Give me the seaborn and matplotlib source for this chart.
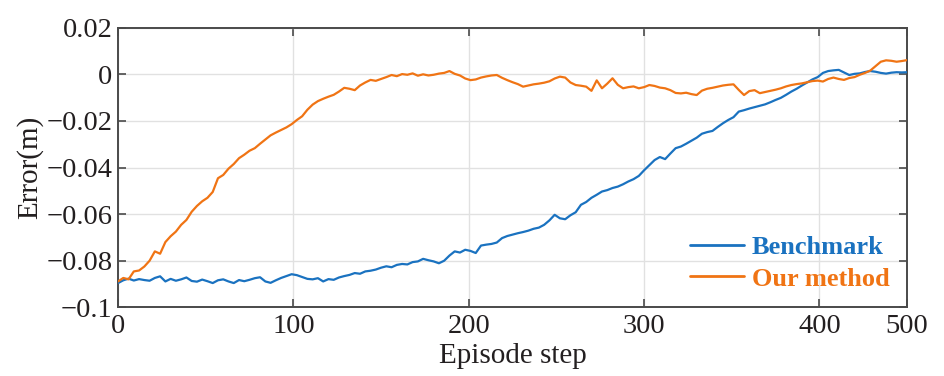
import numpy as np
import pandas as pd
import matplotlib
matplotlib.use("Agg")
import matplotlib.pyplot as plt
import seaborn as sns

# ---------------- data ----------------
steps = list(range(0, 451, 3))

benchmark = [
    -0.0896, -0.0884, -0.0877, -0.0885, -0.0879, -0.0883, -0.0886, -0.0874, -0.0867, -0.0889,
    -0.0878, -0.0886, -0.0880, -0.0872, -0.0887, -0.0890, -0.0881, -0.0888, -0.0896, -0.0884,
    -0.0880, -0.0889, -0.0896, -0.0883, -0.0888, -0.0882, -0.0875, -0.0871, -0.0889, -0.0895,
    -0.0884, -0.0874, -0.0866, -0.0858, -0.0862, -0.0870, -0.0878, -0.0880, -0.0875, -0.0889,
    -0.0879, -0.0882, -0.0872, -0.0866, -0.0861, -0.0853, -0.0856, -0.0846, -0.0843, -0.0838,
    -0.0830, -0.0824, -0.0828, -0.0818, -0.0814, -0.0816, -0.0806, -0.0803, -0.0792, -0.0798,
    -0.0803, -0.0811, -0.0800, -0.0778, -0.0760, -0.0765, -0.0753, -0.0758, -0.0767, -0.0735,
    -0.0731, -0.0728, -0.0722, -0.0703, -0.0694, -0.0688, -0.0682, -0.0677, -0.0671, -0.0663,
    -0.0658, -0.0646, -0.0627, -0.0603, -0.0618, -0.0622, -0.0605, -0.0592, -0.0560, -0.0548,
    -0.0530, -0.0517, -0.0503, -0.0497, -0.0488, -0.0482, -0.0472, -0.0460, -0.0450, -0.0436,
    -0.0412, -0.0390, -0.0368, -0.0355, -0.0364, -0.0340, -0.0317, -0.0310, -0.0298, -0.0285,
    -0.0272, -0.0255, -0.0248, -0.0243, -0.0226, -0.0210, -0.0196, -0.0184, -0.0160, -0.0154,
    -0.0147, -0.0141, -0.0135, -0.0129, -0.0120, -0.0110, -0.0101, -0.0088, -0.0074, -0.0062,
    -0.0048, -0.0035, -0.0022, -0.0012, 0.0006, 0.0014, 0.0017, 0.0019, 0.0008, -0.0003,
    0.0002, 0.0004, 0.0010, 0.0014, 0.0011, 0.0006, 0.0003, 0.0007, 0.0009, 0.0008,
    0.0009,
]

our_method = [
    -0.0889, -0.0874, -0.0880, -0.0846, -0.0842, -0.0825, -0.0800, -0.0760, -0.0770, -0.0720,
    -0.0695, -0.0675, -0.0646, -0.0625, -0.0590, -0.0565, -0.0545, -0.0530, -0.0505, -0.0446,
    -0.0432, -0.0405, -0.0385, -0.0360, -0.0345, -0.0328, -0.0317, -0.0298, -0.0280, -0.0262,
    -0.0250, -0.0239, -0.0228, -0.0214, -0.0196, -0.0180, -0.0152, -0.0130, -0.0115, -0.0105,
    -0.0096, -0.0088, -0.0074, -0.0058, -0.0062, -0.0068, -0.0048, -0.0035, -0.0024, -0.0028,
    -0.0020, -0.0012, -0.0003, -0.0008, 0.0001, -0.0002, 0.0004, -0.0006, 0.0000, -0.0005,
    -0.0002, 0.0003, 0.0006, 0.0014, 0.0002, -0.0005, -0.0018, -0.0025, -0.0022, -0.0014,
    -0.0009, -0.0005, -0.0003, -0.0015, -0.0025, -0.0034, -0.0042, -0.0053, -0.0048, -0.0043,
    -0.0040, -0.0036, -0.0030, -0.0018, -0.0010, -0.0014, -0.0035, -0.0046, -0.0049, -0.0053,
    -0.0071, -0.0026, -0.0060, -0.0040, -0.0017, -0.0045, -0.0060, -0.0055, -0.0052, -0.0060,
    -0.0055, -0.0046, -0.0050, -0.0057, -0.0060, -0.0068, -0.0080, -0.0082, -0.0079, -0.0085,
    -0.0089, -0.0070, -0.0062, -0.0058, -0.0053, -0.0048, -0.0045, -0.0043, -0.0067, -0.0089,
    -0.0072, -0.0068, -0.0081, -0.0076, -0.0071, -0.0066, -0.0060, -0.0052, -0.0046, -0.0042,
    -0.0039, -0.0034, -0.0029, -0.0027, -0.0031, -0.0020, -0.0014, -0.0020, -0.0024, -0.0016,
    -0.0012, -0.0002, 0.0006, 0.0016, 0.0035, 0.0054, 0.0060, 0.0058, 0.0054, 0.0057,
    0.0061,
]

series_names = ["Benchmark", "Our method"]
series_colors = ["#1a72c0", "#f07414"]

x_ticks = [0, 100, 200, 300, 400, 450]
x_tick_labels = ["0", "100", "200", "300", "400", "500"]
y_ticks = [-0.1, -0.08, -0.06, -0.04, -0.02, 0, 0.02]
y_tick_labels = ["\u22120.1", "\u22120.08", "\u22120.06", "\u22120.04", "\u22120.02", "0", "0.02"]

# ---------------- long-form table ----------------
df = pd.concat([
    pd.DataFrame({"step": steps, "error": benchmark, "series": series_names[0]}),
    pd.DataFrame({"step": steps, "error": our_method, "series": series_names[1]}),
], ignore_index=True)

# ---------------- plotting ----------------
sns.set_theme(style="white")
plt.rcParams["font.family"] = ["Liberation Serif", "DejaVu Serif"]

fig = plt.figure(figsize=(9.45, 3.76), dpi=100)
ax = fig.add_axes([0.1249, 0.1827, 0.8350, 0.7436])

sns.lineplot(data=df, x="step", y="error", hue="series", hue_order=series_names,
             palette=dict(zip(series_names, series_colors)), linewidth=1.6,
             ax=ax, legend=True, zorder=3)

ax.set_xlim(0, 449)
ax.set_ylim(-0.1, 0.02)
ax.set_xticks(x_ticks)
ax.set_xticklabels(x_tick_labels)
ax.set_yticks(y_ticks)
ax.set_yticklabels(y_tick_labels)

ax.grid(True, color="#e1e1e1", linewidth=1.0, zorder=0)
ax.set_axisbelow(True)

for sp in ax.spines.values():
    sp.set_color("#4a4a4a")
    sp.set_linewidth(1.4)
    sp.set_visible(True)

ax.tick_params(axis="both", which="both", direction="in", length=6, width=1.2,
               color="#4a4a4a", top=True, right=True, bottom=True, left=True,
               labelsize=20.5, labelcolor="#231f20", pad=4)
ax.tick_params(axis="x", pad=5)

ax.set_xlabel("Episode step", fontsize=21, color="#231f20", labelpad=3)
ax.set_ylabel("Error(m)", fontsize=21, color="#231f20", labelpad=2)

leg = ax.legend(loc="lower right", bbox_to_anchor=(1.008, -0.025), frameon=False,
                prop={"weight": "bold", "size": 19, "family": "Liberation Serif"},
                handlelength=2.05, handletextpad=0.3, labelspacing=0.3,
                labelcolor="linecolor")
for line in leg.get_lines():
    line.set_linewidth(2.0)

fig.savefig("out.png", dpi=100)
